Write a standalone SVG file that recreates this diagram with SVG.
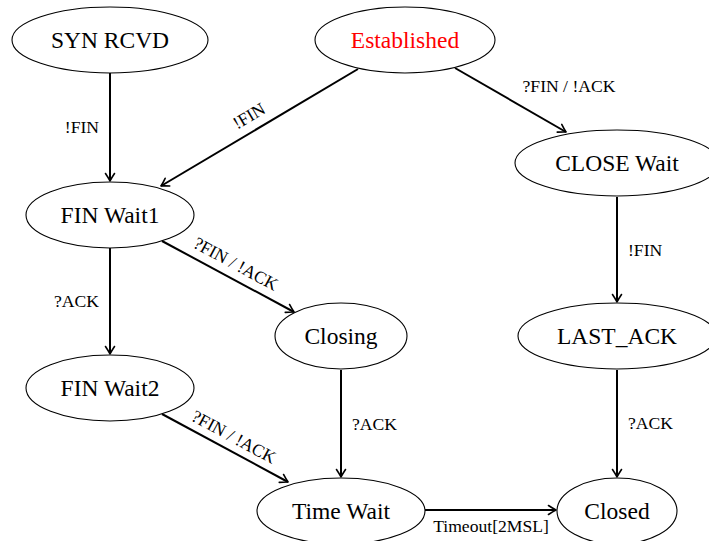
<svg xmlns="http://www.w3.org/2000/svg" width="709" height="541" viewBox="0 0 709 541">
<defs>
<marker id="arr" markerUnits="userSpaceOnUse" markerWidth="16" markerHeight="16" refX="10" refY="8" orient="auto" overflow="visible">
<path d="M2.5,3.5 Q7,6.5 10,8 Q7,9.5 2.5,12.5" fill="none" stroke="#000" stroke-width="1.6" stroke-linecap="round" stroke-linejoin="round"/>
</marker>
<style>
.n ellipse{fill:#fff;stroke:#000;stroke-width:1.1}
.n text{font-family:"Liberation Serif","Times New Roman",serif;font-size:23.5px;text-anchor:middle;fill:#000}
.e line{stroke:#000;stroke-width:2;marker-end:url(#arr)}
.e text{font-family:"Liberation Serif","Times New Roman",serif;font-size:17.6px;fill:#000}
</style>
</defs>
<rect width="709" height="541" fill="#fff"/>
<g id="edges" class="e">
<line x1="110" y1="73" x2="110" y2="181"/>
<text x="99" y="133" text-anchor="end">!FIN</text>
<line x1="358" y1="69" x2="161" y2="186"/>
<text transform="translate(252,121) rotate(-30.6)" text-anchor="middle">!FIN</text>
<line x1="455" y1="68" x2="566" y2="132"/>
<text x="569" y="92" text-anchor="middle">?FIN / !ACK</text>
<line x1="617" y1="197" x2="617" y2="302"/>
<text x="628" y="256">!FIN</text>
<line x1="617" y1="370" x2="617" y2="477"/>
<text x="628" y="429">?ACK</text>
<line x1="110" y1="248" x2="110" y2="354"/>
<text x="99" y="307" text-anchor="end">?ACK</text>
<line x1="162" y1="241" x2="294" y2="312"/>
<text transform="translate(233,269) rotate(28.3)" text-anchor="middle">?FIN / !ACK</text>
<line x1="341" y1="370" x2="341" y2="477"/>
<text x="352" y="430">?ACK</text>
<line x1="162" y1="414" x2="288" y2="482"/>
<text transform="translate(231,442) rotate(28.4)" text-anchor="middle">?FIN / !ACK</text>
<line x1="425" y1="510" x2="556" y2="510"/>
<text x="491" y="532" text-anchor="middle">Timeout[2MSL]</text>
</g>
<g id="syn-rcvd" class="n"><ellipse cx="110" cy="40" rx="98" ry="33"/><text x="110" y="48">SYN RCVD</text></g>
<g id="established" class="n"><ellipse cx="405" cy="40" rx="90" ry="33"/><text x="405" y="48" style="fill:#ff0000">Established</text></g>
<g id="fin-wait1" class="n"><ellipse cx="110" cy="215" rx="84" ry="33"/><text x="110" y="223">FIN Wait1</text></g>
<g id="close-wait" class="n"><ellipse cx="617" cy="163" rx="102" ry="33"/><text x="617" y="171">CLOSE Wait</text></g>
<g id="closing" class="n"><ellipse cx="341" cy="336" rx="66" ry="33"/><text x="341" y="344">Closing</text></g>
<g id="last-ack" class="n"><ellipse cx="617" cy="336" rx="99" ry="33"/><text x="617" y="344">LAST_ACK</text></g>
<g id="fin-wait2" class="n"><ellipse cx="110" cy="388" rx="84" ry="33"/><text x="110" y="396">FIN Wait2</text></g>
<g id="time-wait" class="n"><ellipse cx="341" cy="511" rx="84" ry="33"/><text x="341" y="519">Time Wait</text></g>
<g id="closed" class="n"><ellipse cx="617" cy="511" rx="60" ry="33"/><text x="617" y="519">Closed</text></g>
</svg>
